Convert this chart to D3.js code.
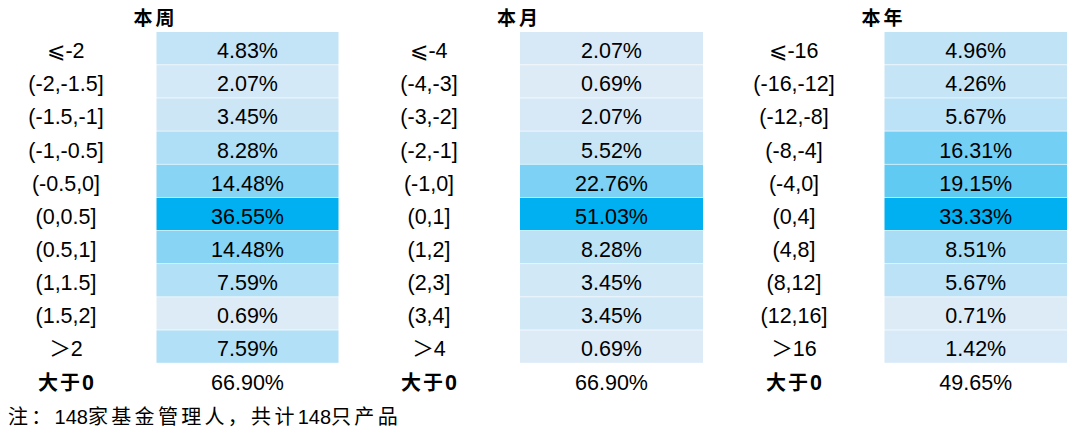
<!DOCTYPE html>
<html>
<head>
<meta charset="utf-8">
<script src="https://d3js.org/d3.v7.min.js"></script>
<style>
body { margin: 0; background: #fff; }
text { font-family: "Liberation Sans", Arial, "Noto Sans CJK SC", sans-serif; fill: #000; }
.cjk { font-family: "Noto Sans CJK SC", sans-serif; }
</style>
</head>
<body>
<script>
// 区间标签与占比(%)
var titles = ["本周", "本月", "本年"];
var weekLabels = ["⩽-2", "(-2,-1.5]", "(-1.5,-1]", "(-1,-0.5]", "(-0.5,0]", "(0,0.5]", "(0.5,1]", "(1,1.5]", "(1.5,2]", "＞2"];
var weekValues = [4.83, 2.07, 3.45, 8.28, 14.48, 36.55, 14.48, 7.59, 0.69, 7.59];
var monthLabels = ["⩽-4", "(-4,-3]", "(-3,-2]", "(-2,-1]", "(-1,0]", "(0,1]", "(1,2]", "(2,3]", "(3,4]", "＞4"];
var monthValues = [2.07, 0.69, 2.07, 5.52, 22.76, 51.03, 8.28, 3.45, 3.45, 0.69];
var yearLabels = ["⩽-16", "(-16,-12]", "(-12,-8]", "(-8,-4]", "(-4,0]", "(0,4]", "(4,8]", "(8,12]", "(12,16]", "＞16"];
var yearValues = [4.96, 4.26, 5.67, 16.31, 19.15, 33.33, 8.51, 5.67, 0.71, 1.42];
var positiveShare = [66.90, 66.90, 49.65];
var noteParts = [["注：", true], ["148", false], ["家基金管理人，共计", true], ["148", false], ["只产品", true]];

var w = 1080, h = 440;
var fs = 21.5;
var svg = d3.select("body").append("svg").attr("width", w).attr("height", h);

var panels = [
  {labels: weekLabels, values: weekValues, labelX: 66, x0: 156.5, x1: 338.5},
  {labels: monthLabels, values: monthValues, labelX: 429, x0: 520, x1: 703},
  {labels: yearLabels, values: yearValues, labelX: 794, x0: 884.5, x1: 1067}
];

var y = d3.scaleBand().domain(d3.range(10)).range([32, 363.5]).paddingInner(0);

panels.forEach(function(p, k) {
  var color = d3.scaleLinear()
    .domain(d3.extent(p.values))
    .range(["#DDEBF7", "#00B0F0"])
    .interpolate(d3.interpolateRgb);

  var g = svg.append("g");

  g.append("text")
    .attr("class", "cjk")
    .attr("x", p.x0 - 1)
    .attr("y", 18)
    .attr("dy", "0.35em")
    .attr("text-anchor", "middle")
    .style("font-size", "19px")
    .style("font-weight", "bold")
    .style("letter-spacing", "3px")
    .text(titles[k]);

  g.selectAll("rect").data(p.values).enter().append("rect")
    .attr("x", p.x0)
    .attr("y", function(d, i) { return y(i); })
    .attr("width", p.x1 - p.x0)
    .attr("height", y.bandwidth() - 0.7)
    .attr("fill", function(d) { return color(d); });

  g.selectAll(".lab").data(p.labels).enter().append("text")
    .attr("class", "lab")
    .attr("x", p.labelX)
    .attr("y", function(d, i) { return y(i) + y.bandwidth() / 2 + 2; })
    .attr("dy", "0.35em")
    .attr("text-anchor", "middle")
    .style("font-size", fs + "px")
    .text(function(d) { return d; });

  g.selectAll(".val").data(p.values).enter().append("text")
    .attr("class", "val")
    .attr("x", (p.x0 + p.x1) / 2)
    .attr("y", function(d, i) { return y(i) + y.bandwidth() / 2 + 2; })
    .attr("dy", "0.35em")
    .attr("text-anchor", "middle")
    .style("font-size", fs + "px")
    .text(function(d) { return d.toFixed(2) + "%"; });

  var rowY = 382;
  var t = g.append("text")
    .attr("x", p.labelX)
    .attr("y", rowY)
    .attr("dy", "0.35em")
    .attr("text-anchor", "middle")
    .style("font-size", fs + "px")
    .style("font-weight", "bold");
  t.append("tspan").attr("class", "cjk").style("font-size", "20px").style("letter-spacing", "2px").text("大于");
  t.append("tspan").text("0");

  g.append("text")
    .attr("x", (p.x0 + p.x1) / 2)
    .attr("y", rowY)
    .attr("dy", "0.35em")
    .attr("text-anchor", "middle")
    .style("font-size", fs + "px")
    .text(positiveShare[k].toFixed(2) + "%");
});

var nt = svg.append("text")
  .attr("x", 8)
  .attr("y", 417)
  .attr("dy", "0.35em")
  .style("font-size", "20px");
noteParts.forEach(function(part) {
  var s = nt.append("tspan").text(part[0]);
  if (part[1]) s.attr("class", "cjk").style("letter-spacing", "3.3px");
});
</script>
</body>
</html>
